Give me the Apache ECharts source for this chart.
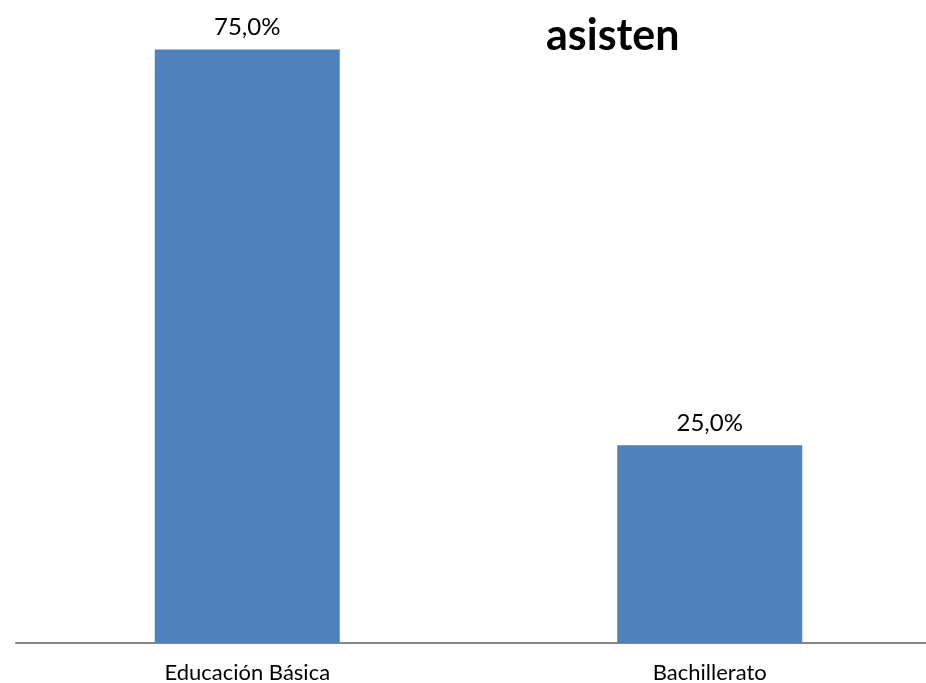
<!DOCTYPE html>
<html><head><meta charset="utf-8">
<script src="https://cdn.jsdelivr.net/npm/echarts@6/dist/echarts.min.js"></script>
<style>html,body{margin:0;padding:0;background:#fff}#c{width:926px;height:683px}</style>
</head><body><div id="c"></div>
<script>
const categories = ["Educación Básica", "Bachillerato"];
const values = [75.0, 25.0];
const titleText = "asisten";

const chart = echarts.init(document.getElementById('c'));
chart.setOption({
  animation: false,
  title: {
    text: titleText,
    left: 541, top: 10,
    textStyle: { fontFamily: "Lato", fontWeight: "bold", fontSize: 43, color: "#000" }
  },
  grid: { left: 16, right: -15, top: 10, bottom: 40, containLabel: false, outerBoundsMode: "none" },
  xAxis: {
    type: "category", data: categories,
    axisLine: { show: true, lineStyle: { color: "#868686", width: 2 } },
    axisTick: { show: false },
    axisLabel: { margin: 19, fontFamily: "Lato", fontSize: 22, color: "#000" }
  },
  yAxis: { type: "value", min: 0, max: 80, show: false, splitLine: { show: false } },
  series: [{
    type: "bar", data: values, barWidth: "40%",
    itemStyle: { color: "#4f81bd" },
    label: {
      show: true, position: "top", distance: 10,
      fontFamily: "Lato", fontSize: 24, color: "#000",
      formatter: p => p.value.toFixed(1).replace(".", ",") + "%"
    }
  }]
});
</script></body></html>
